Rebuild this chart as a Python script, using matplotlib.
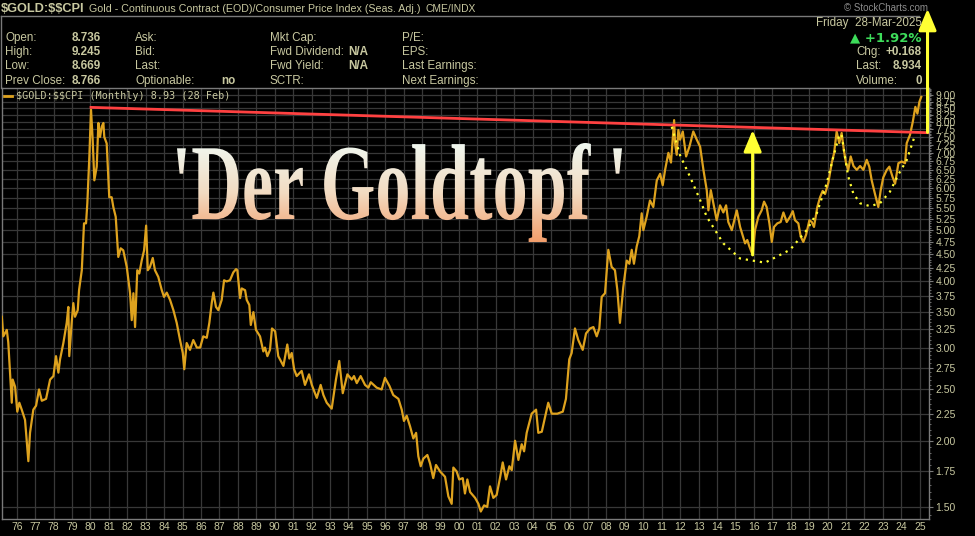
import numpy as np
import matplotlib
matplotlib.use('Agg')
import matplotlib.pyplot as plt
from matplotlib.ticker import FixedLocator, NullFormatter
from matplotlib.textpath import TextPath
from matplotlib.font_manager import FontProperties
from matplotlib.patches import PathPatch
from matplotlib.transforms import Affine2D
from matplotlib.lines import Line2D

# monthly gold / CPI ratio
gold_years = [
    1975.19, 1975.27, 1975.46, 1975.54, 1975.73, 1975.78, 1975.91, 1976.03, 1976.14, 1976.27,
    1976.45, 1976.63, 1976.72, 1976.90, 1977.05, 1977.21, 1977.36, 1977.59, 1977.81, 1977.99,
    1978.13, 1978.26, 1978.35, 1978.53, 1978.71, 1978.80, 1978.85, 1978.98, 1979.07, 1979.16,
    1979.31, 1979.38, 1979.53, 1979.65, 1979.76, 1979.83, 1979.94, 1980.03, 1980.12, 1980.21,
    1980.34, 1980.43, 1980.52, 1980.61, 1980.70, 1980.75, 1980.88, 1981.02, 1981.15, 1981.24,
    1981.37, 1981.51, 1981.64, 1981.78, 1981.97, 1982.15, 1982.24, 1982.33, 1982.42, 1982.54,
    1982.65, 1982.78, 1982.91, 1983.02, 1983.11, 1983.23, 1983.38, 1983.50, 1983.68, 1983.87,
    1983.99, 1984.14, 1984.32, 1984.50, 1984.68, 1984.86, 1985.01, 1985.09, 1985.22, 1985.40,
    1985.58, 1985.77, 1985.95, 1986.12, 1986.31, 1986.45, 1986.58, 1986.67, 1986.81, 1986.94,
    1987.12, 1987.25, 1987.39, 1987.57, 1987.75, 1987.90, 1987.97, 1988.12, 1988.21, 1988.39,
    1988.48, 1988.62, 1988.70, 1988.84, 1988.98, 1989.20, 1989.38, 1989.47, 1989.60, 1989.74,
    1989.85, 1990.02, 1990.19, 1990.47, 1990.68, 1990.79, 1990.92, 1991.05, 1991.19, 1991.46,
    1991.64, 1991.86, 1992.01, 1992.28, 1992.49, 1992.64, 1992.82, 1993.09, 1993.32, 1993.50,
    1993.69, 1993.94, 1994.18, 1994.30, 1994.45, 1994.66, 1994.90, 1995.08, 1995.21, 1995.53,
    1995.80, 1995.98, 1996.22, 1996.43, 1996.71, 1996.89, 1997.01, 1997.16, 1997.34, 1997.52,
    1997.67, 1997.79, 1997.92, 1998.06, 1998.28, 1998.43, 1998.60, 1998.75, 1998.97, 1999.24,
    1999.42, 1999.60, 1999.69, 1999.87, 2000.01, 2000.20, 2000.32, 2000.45, 2000.60, 2000.87,
    2001.05, 2001.18, 2001.36, 2001.53, 2001.68, 2001.86, 2002.04, 2002.22, 2002.37, 2002.55,
    2002.73, 2002.86, 2003.04, 2003.22, 2003.40, 2003.53, 2003.67, 2003.94, 2004.18, 2004.30,
    2004.49, 2004.84, 2005.03, 2005.33, 2005.63, 2005.80, 2005.98, 2006.11, 2006.29, 2006.47,
    2006.71, 2006.89, 2007.11, 2007.29, 2007.47, 2007.61, 2007.74, 2007.92, 2008.10, 2008.28,
    2008.46, 2008.59, 2008.73, 2008.91, 2009.10, 2009.24, 2009.37, 2009.49, 2009.64, 2009.78,
    2009.91, 2010.00, 2010.18, 2010.36, 2010.54, 2010.73, 2010.91, 2011.05, 2011.18, 2011.36,
    2011.50, 2011.67, 2011.72, 2011.81, 2011.90, 2011.99, 2012.14, 2012.32, 2012.50, 2012.71,
    2012.90, 2013.08, 2013.26, 2013.44, 2013.53, 2013.66, 2013.84, 2013.98, 2014.16, 2014.34,
    2014.49, 2014.61, 2014.80, 2015.07, 2015.25, 2015.52, 2015.64, 2015.75, 2015.93, 2016.06,
    2016.24, 2016.42, 2016.55, 2016.69, 2016.84, 2016.97, 2017.09, 2017.27, 2017.45, 2017.60,
    2017.78, 2017.96, 2018.11, 2018.23, 2018.41, 2018.54, 2018.68, 2018.83, 2019.01, 2019.14,
    2019.26, 2019.44, 2019.59, 2019.73, 2019.86, 2020.04, 2020.22, 2020.35, 2020.49, 2020.63,
    2020.76, 2020.89, 2021.00, 2021.12, 2021.25, 2021.40, 2021.58, 2021.76, 2021.94, 2022.12,
    2022.26, 2022.39, 2022.57, 2022.75, 2022.88, 2023.02, 2023.21, 2023.35, 2023.53, 2023.66,
    2023.84, 2024.02, 2024.20, 2024.29, 2024.47, 2024.62, 2024.76, 2024.87, 2024.98, 2025.08,
]
gold_ratio = [
    3.43, 3.15, 3.24, 3.07, 2.36, 2.61, 2.53, 2.27, 2.36, 2.29,
    2.19, 1.83, 2.07, 2.29, 2.33, 2.50, 2.38, 2.40, 2.61, 2.65,
    2.89, 2.69, 2.85, 3.06, 3.34, 3.58, 2.89, 3.34, 3.64, 3.43,
    3.53, 3.85, 4.20, 5.15, 5.15, 5.62, 6.89, 8.45, 7.41, 6.21,
    6.59, 7.97, 7.50, 7.84, 7.97, 7.50, 7.29, 5.77, 5.77, 5.53,
    5.30, 4.45, 4.62, 4.58, 4.26, 3.80, 3.38, 3.80, 3.28, 4.20,
    4.14, 4.38, 4.58, 5.10, 4.20, 4.26, 4.43, 4.20, 4.08, 3.85,
    3.74, 3.81, 3.69, 3.53, 3.34, 3.10, 2.93, 2.73, 3.06, 2.97,
    3.10, 3.00, 3.00, 3.15, 3.13, 3.34, 3.64, 3.81, 3.58, 3.53,
    3.69, 4.02, 4.00, 4.02, 4.16, 4.22, 4.20, 3.72, 3.88, 3.85,
    3.69, 3.61, 3.31, 3.50, 3.24, 3.15, 2.95, 3.00, 2.89, 2.97,
    3.26, 3.22, 2.89, 2.77, 3.04, 2.86, 2.93, 2.73, 2.65, 2.71,
    2.55, 2.67, 2.55, 2.41, 2.55, 2.44, 2.36, 2.30, 2.61, 2.83,
    2.46, 2.67, 2.61, 2.65, 2.57, 2.65, 2.55, 2.52, 2.58, 2.52,
    2.50, 2.63, 2.54, 2.44, 2.40, 2.29, 2.18, 2.23, 2.13, 2.02,
    2.07, 1.87, 1.79, 1.85, 1.88, 1.81, 1.70, 1.80, 1.75, 1.71,
    1.57, 1.52, 1.78, 1.75, 1.69, 1.70, 1.59, 1.69, 1.60, 1.56,
    1.52, 1.47, 1.51, 1.50, 1.64, 1.56, 1.58, 1.70, 1.82, 1.69,
    1.79, 1.76, 2.00, 1.84, 1.97, 1.91, 2.07, 2.25, 2.29, 2.07,
    2.08, 2.36, 2.25, 2.25, 2.27, 2.40, 2.85, 2.93, 3.26, 3.10,
    2.97, 3.19, 3.26, 3.28, 3.15, 3.26, 3.74, 3.80, 4.59, 4.26,
    4.20, 3.85, 3.34, 3.90, 4.38, 4.32, 4.59, 4.32, 4.66, 4.87,
    5.38, 5.00, 5.30, 5.69, 5.53, 6.21, 6.39, 6.08, 6.50, 7.00,
    6.71, 8.07, 7.30, 6.94, 7.73, 7.41, 7.68, 6.89, 7.19, 7.68,
    7.41, 7.19, 6.50, 5.95, 5.45, 5.95, 5.53, 5.22, 5.57, 5.40,
    5.57, 5.18, 5.00, 5.45, 5.07, 4.72, 4.79, 4.66, 4.49, 5.00,
    5.30, 5.45, 5.66, 5.53, 5.15, 4.75, 5.07, 5.15, 5.18, 5.40,
    5.18, 5.30, 5.43, 5.22, 5.15, 4.86, 4.75, 4.90, 5.22, 5.18,
    5.07, 5.53, 5.77, 5.93, 5.85, 6.15, 6.69, 6.99, 7.68, 7.30,
    7.63, 7.04, 6.69, 6.50, 6.89, 6.61, 6.50, 6.61, 6.50, 6.79,
    6.59, 6.21, 5.85, 5.53, 5.95, 6.29, 6.50, 6.59, 6.29, 6.12,
    6.69, 6.74, 6.69, 7.30, 7.57, 8.01, 8.55, 8.30, 8.74, 8.93,
]

# resistance line from the 1980 top
res_years = [1980.03, 2025.45]
res_vals = [8.53, 7.64]

# hand drawn cup and handle (dotted)
cup_years = [2011.54, 2011.99, 2012.53, 2013.08, 2013.44, 2014.34, 2015.25, 2016.60,
             2017.96, 2018.86, 2019.41, 2019.95, 2020.31, 2020.63]
cup_vals = [7.84, 6.93, 6.31, 5.70, 5.30, 4.72, 4.42, 4.34, 4.59, 5.00, 5.38, 6.13, 6.88, 7.56]
handle_years = [2020.76, 2020.94, 2021.12, 2021.39, 2021.76, 2022.30, 2022.84, 2023.38,
                2023.83, 2024.29, 2024.59, 2024.74]
handle_vals = [7.56, 6.88, 6.31, 5.87, 5.62, 5.55, 5.62, 5.91, 6.36, 6.78, 7.29, 7.56]

# arrows: (year, from, to)
depth_arrow = (2015.93, 4.49, 7.73)
target_arrow = (2025.42, 7.65, 13.1)

year_ticks = list(range(1976, 2026))
ratio_ticks = [1.50, 1.75, 2.00, 2.25, 2.50, 2.75, 3.00, 3.25, 3.50, 3.75, 4.00, 4.25,
               4.50, 4.75, 5.00, 5.25, 5.50, 5.75, 6.00, 6.25, 6.50, 6.75, 7.00, 7.25,
               7.50, 7.75, 8.00, 8.25, 8.50, 8.75, 9.00]

W, H = 975, 536
BG = '#000000'
KHAKI = '#c8c8a0'
GRIDC = '#383838'
EDGE = '#7a7a7a'


def px(x, y):
    return x / W, 1 - y / H


fig = plt.figure(figsize=(W / 100, H / 100), dpi=100, facecolor=BG)
ax = fig.add_axes([2 / W, 17 / H, 927 / W, 431 / H], facecolor=BG)

ax.plot(gold_years, gold_ratio, color='#dea21e', lw=1.6, zorder=3)
ax.plot(res_years, res_vals, color='#ff4141', lw=2.0, zorder=4)
ax.plot(cup_years, cup_vals, color='#ffff33', lw=1.6, ls=(0, (1, 2.2)), zorder=5)
ax.plot(handle_years, handle_vals, color='#ffff33', lw=1.6, ls=(0, (1, 2.2)), zorder=5)

for yr, lo, hi in (depth_arrow, target_arrow):
    ax.annotate('', xy=(yr, hi), xytext=(yr, lo), annotation_clip=False, zorder=6,
                arrowprops=dict(arrowstyle='-|>,head_length=0.65,head_width=0.27',
                                color='#ffff33', lw=2.2, mutation_scale=20,
                                shrinkA=0, shrinkB=0))

ax.set_yscale('log')
ax.set_xlim(1975.2, 2025.5)
ax.set_ylim(1.423, 9.28)

ax.xaxis.set_major_locator(FixedLocator(year_ticks))
ax.set_xticklabels([f'{y % 100:02d}' for y in year_ticks])
ax.yaxis.set_major_locator(FixedLocator(ratio_ticks))
ax.yaxis.set_major_formatter(plt.FixedFormatter([f'{v:.2f}' for v in ratio_ticks]))
ax.yaxis.set_minor_locator(FixedLocator(np.arange(1.45, 9.3, 0.05)))
ax.yaxis.set_minor_formatter(NullFormatter())
ax.yaxis.tick_right()

ax.tick_params(axis='x', length=0, pad=2.5, labelsize=7.5, labelcolor=KHAKI)
ax.tick_params(axis='y', which='major', length=3, color=EDGE, pad=1.5,
               labelsize=7.5, labelcolor=KHAKI)
ax.tick_params(axis='y', which='minor', length=1.5, color=EDGE)
for lbl in ax.get_xticklabels() + ax.get_yticklabels():
    lbl.set_family('Liberation Sans')

ax.grid(True, which='major', color=GRIDC, lw=0.9)
for sp in ax.spines.values():
    sp.set_color(EDGE)
    sp.set_linewidth(1)

# legend line inside the plot
ax.plot([0.0025, 0.011], [0.981, 0.981], transform=ax.transAxes, color='#dea21e', lw=2,
        clip_on=False)
fig.text(*px(16, 96), '$GOLD:$$CPI (Monthly) 8.93 (28 Feb)', color=KHAKI,
         fontsize=7.3, family='DejaVu Sans Mono', va='center')

# header
hdr = dict(color=KHAKI, family='Liberation Sans', va='center')
fig.text(*px(1, 9), '$GOLD:$$CPI', fontsize=9.2, weight='bold', **hdr)
fig.text(*px(89, 9), 'Gold - Continuous Contract (EOD)/Consumer Price Index (Seas. Adj.)',
         fontsize=7.7, **hdr)
fig.text(*px(425, 9), 'CME/INDX', fontsize=7.4, **hdr)
fig.text(*px(928, 8), '\u00a9 StockCharts.com', fontsize=7, color='#8c8c8c',
         family='Liberation Sans', va='center', ha='right')

fig.add_artist(Line2D([1 / W, 919 / W], [1 - 16 / H, 1 - 16 / H], color=EDGE, lw=1))
fig.add_artist(Line2D([1 / W, 1 / W], [1 - 16 / H, 1 - 88 / H], color=EDGE, lw=1))

rows_y = [38, 52, 66, 81]
col1 = ['Open:', 'High:', 'Low:', 'Prev Close:']
col1_vals = ['8.736', '9.245', '8.669', '8.766']
col2 = ['Ask:', 'Bid:', 'Last:', 'Optionable:']
col3 = ['Mkt Cap:', 'Fwd Dividend:', 'Fwd Yield:', 'SCTR:']
col3_vals = ['', 'N/A', 'N/A', '']
col4 = ['P/E:', 'EPS:', 'Last Earnings:', 'Next Earnings:']
for i, yy in enumerate(rows_y):
    fig.text(*px(5, yy), col1[i], fontsize=8.4, **hdr)
    fig.text(*px(101, yy), col1_vals[i], fontsize=8.4, weight='bold', ha='right', **hdr)
    fig.text(*px(135, yy), col2[i], fontsize=8.4, **hdr)
    fig.text(*px(270, yy), col3[i], fontsize=8.4, **hdr)
    if col3_vals[i]:
        fig.text(*px(368, yy), col3_vals[i], fontsize=8.4, weight='bold', ha='right', **hdr)
    fig.text(*px(402, yy), col4[i], fontsize=8.4, **hdr)
fig.text(*px(236, 81), 'no', fontsize=8.4, weight='bold', ha='right', **hdr)

fig.text(*px(922, 23), 'Friday  28-Mar-2025', fontsize=8.4, ha='right', **hdr)
fig.text(*px(922, 38), '\u25b2 +1.92%', fontsize=9.5, weight='bold', ha='right',
         color='#3ddc5a', family='DejaVu Sans', va='center')
for yy, lab, val in ((52, 'Chg:', '+0.168'), (66, 'Last:', '8.934'), (81, 'Volume:', '0')):
    fig.text(*px(856, yy), lab, fontsize=8.4, **hdr)
    fig.text(*px(922, yy), val, fontsize=8.4, weight='bold', ha='right', **hdr)

# big gradient title
tax = fig.add_axes([0, 0, 1, 1], facecolor='none')
tax.axis('off')
tpath = TextPath((0, 0), "'Der Goldtopf '", size=100,
                 prop=FontProperties(family='Liberation Serif', weight='bold'))
ext = tpath.get_extents()
x0, x1, y_top, y_bot = 177, 622, 143, 242
tr = (Affine2D().translate(-ext.x0, -ext.y0)
      .scale((x1 - x0) / ext.width, -(y_bot - y_top) / ext.height)
      .translate(x0, y_bot))
patch = PathPatch(tr.transform_path(tpath), facecolor='none', edgecolor='none',
                  transform=tax.transData)
tax.add_patch(patch)
top_c = np.array([0.94, 0.97, 0.94])
mid_c = np.array([0.95, 0.86, 0.76])
bot_c = np.array([0.95, 0.62, 0.42])
t = np.linspace(0, 1, 200)[:, None]
grad = np.where(t < 0.5, top_c + (mid_c - top_c) * (t / 0.5),
                mid_c + (bot_c - mid_c) * ((t - 0.5) / 0.5))
grad = np.repeat(grad[:, None, :], 2, axis=1)
im = tax.imshow(grad, extent=(x0, x1, y_bot, y_top), aspect='auto', origin='upper',
                interpolation='bilinear')
im.set_clip_path(patch)
tax.set_xlim(0, W)
tax.set_ylim(H, 0)

fig.savefig('out.png', dpi=100, facecolor=BG)
